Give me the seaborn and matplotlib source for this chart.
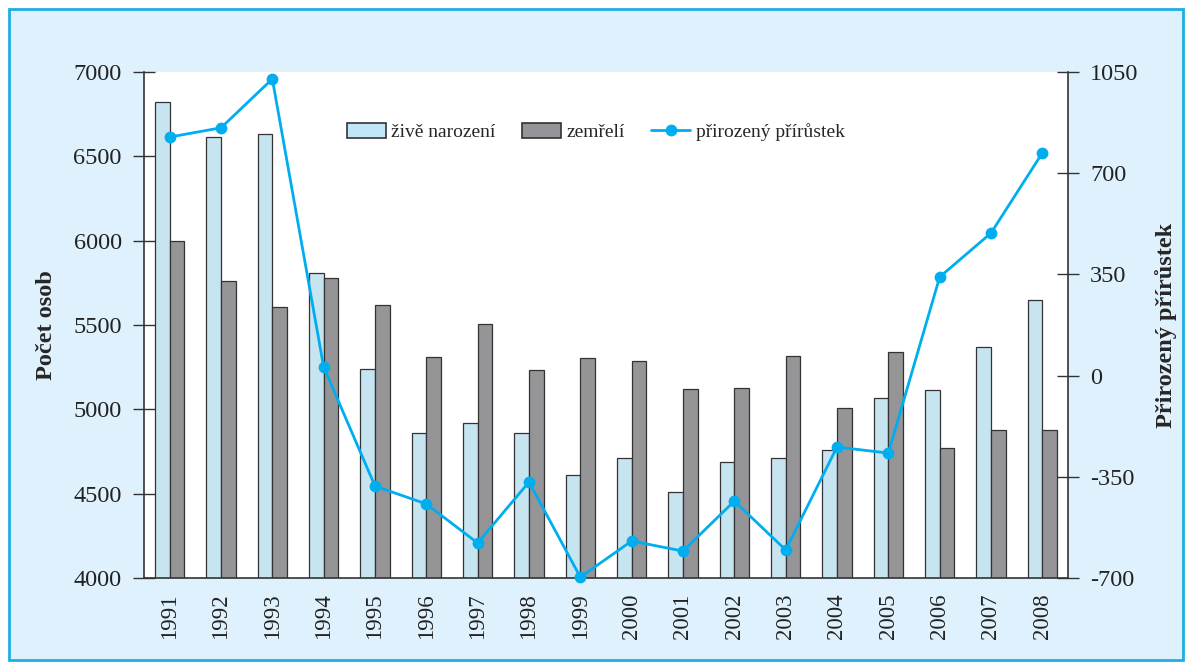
import numpy as np
import pandas as pd
import matplotlib
matplotlib.use("Agg")
import matplotlib.pyplot as plt
import seaborn as sns
from matplotlib.patches import Rectangle, Patch
from matplotlib.lines import Line2D

years = ["1991", "1992", "1993", "1994", "1995", "1996", "1997", "1998", "1999",
         "2000", "2001", "2002", "2003", "2004", "2005", "2006", "2007", "2008"]
born = [6821, 6616, 6631, 5806, 5237, 4861, 4917, 4861, 4609,
        4710, 4510, 4690, 4710, 4761, 5069, 5113, 5371, 5646]
died = [5997, 5759, 5607, 5779, 5620, 5310, 5504, 5231, 5306,
        5285, 5121, 5128, 5318, 5006, 5338, 4773, 4879, 4879]
increase = [825, 857, 1026, 30, -382, -444, -579, -368, -697,
            -572, -607, -434, -603, -247, -268, 341, 493, 770]

series_names = ["živě narození", "zemřelí", "přirozený přírůstek"]
left_ticks = [4000, 4500, 5000, 5500, 6000, 6500, 7000]
right_ticks = [-700, -350, 0, 350, 700, 1050]

sns.set_style("white")
plt.rcParams["font.family"] = ["Liberation Serif", "DejaVu Serif"]

c_born = "#c0e6f8"
c_died = "#949598"
c_line = "#00aeef"
c_bg = "#dff1fc"
c_border = "#1eaee6"
c_edge = "#333333"

fig = plt.figure(figsize=(11.92, 6.69), dpi=100)
fig.patch.set_facecolor("white")
fig.patches.append(Rectangle((9 / 1192, 9 / 669), 1174 / 1192, 651 / 669,
                             transform=fig.transFigure, facecolor=c_bg,
                             edgecolor=c_border, linewidth=2, zorder=-10))

ax = fig.add_axes([144 / 1192, 1 - 578 / 669, 924 / 1192, 506 / 669])
ax.set_facecolor("white")

df = pd.DataFrame({
    "year": years * 2,
    "series": [series_names[0]] * len(years) + [series_names[1]] * len(years),
    "value": born + died,
})
sns.barplot(data=df, x="year", y="value", hue="series", order=years,
            hue_order=series_names[:2], palette=[c_born, c_died],
            width=0.57, gap=0, edgecolor=c_edge, linewidth=0.9,
            ax=ax, legend=False)

ax.set_xlim(-0.5, len(years) - 0.5)
ax.set_ylim(4000, 7000)
ax.set_yticks(left_ticks)
ax.set_yticklabels([str(t) for t in left_ticks], fontsize=17.5)
ax.set_xticks(range(len(years)))
ax.set_xticklabels(years, rotation=90, fontsize=16.5)
ax.set_xticks(np.arange(-0.5, len(years), 1), minor=True)
ax.tick_params(axis="x", which="major", length=0, pad=11, colors="#222222")
ax.tick_params(axis="x", which="minor", length=15, width=1, direction="inout", color="#333333")
ax.tick_params(axis="y", length=16, width=1, direction="inout", pad=8, color="#333333", labelcolor="#222222")
ax.set_xlabel("")
ax.set_ylabel("Počet osob", fontsize=17.5, fontweight="bold", labelpad=12)
for s in ["top", "right"]:
    ax.spines[s].set_visible(False)
for s in ["left", "bottom"]:
    ax.spines[s].set_color("#333333")
    ax.spines[s].set_linewidth(1.2)

ax2 = ax.twinx()
sns.lineplot(x=np.arange(len(years)), y=increase, ax=ax2, color=c_line,
             linewidth=2.0, marker="o", markersize=8.5, markeredgewidth=0,
             clip_on=False, zorder=5)
ax2.set_ylim(-700, 1050)
ax2.set_yticks(right_ticks)
ax2.set_yticklabels([str(t) for t in right_ticks], fontsize=17.5)
ax2.tick_params(axis="y", length=16, width=1, direction="inout", pad=8, color="#333333", labelcolor="#222222")
ax2.set_ylabel("Přirozený přírůstek", fontsize=17.5, fontweight="bold", labelpad=12)
for s in ["top", "left", "bottom"]:
    ax2.spines[s].set_visible(False)
ax2.spines["right"].set_color("#333333")
ax2.spines["right"].set_linewidth(1.2)

handles = [
    Patch(facecolor=c_born, edgecolor=c_edge, linewidth=1.2),
    Patch(facecolor=c_died, edgecolor=c_edge, linewidth=1.2),
    Line2D([], [], color=c_line, linewidth=2.0, marker="o", markersize=8.5, markeredgewidth=0),
]
ax2.legend(handles, series_names, loc="center", bbox_to_anchor=(0.489, 0.881),
           ncol=3, frameon=False, fontsize=14, handlelength=2.0, handleheight=0.75,
           handletextpad=0.3, columnspacing=1.35)

fig.savefig("out.png", dpi=100, facecolor=fig.get_facecolor())
